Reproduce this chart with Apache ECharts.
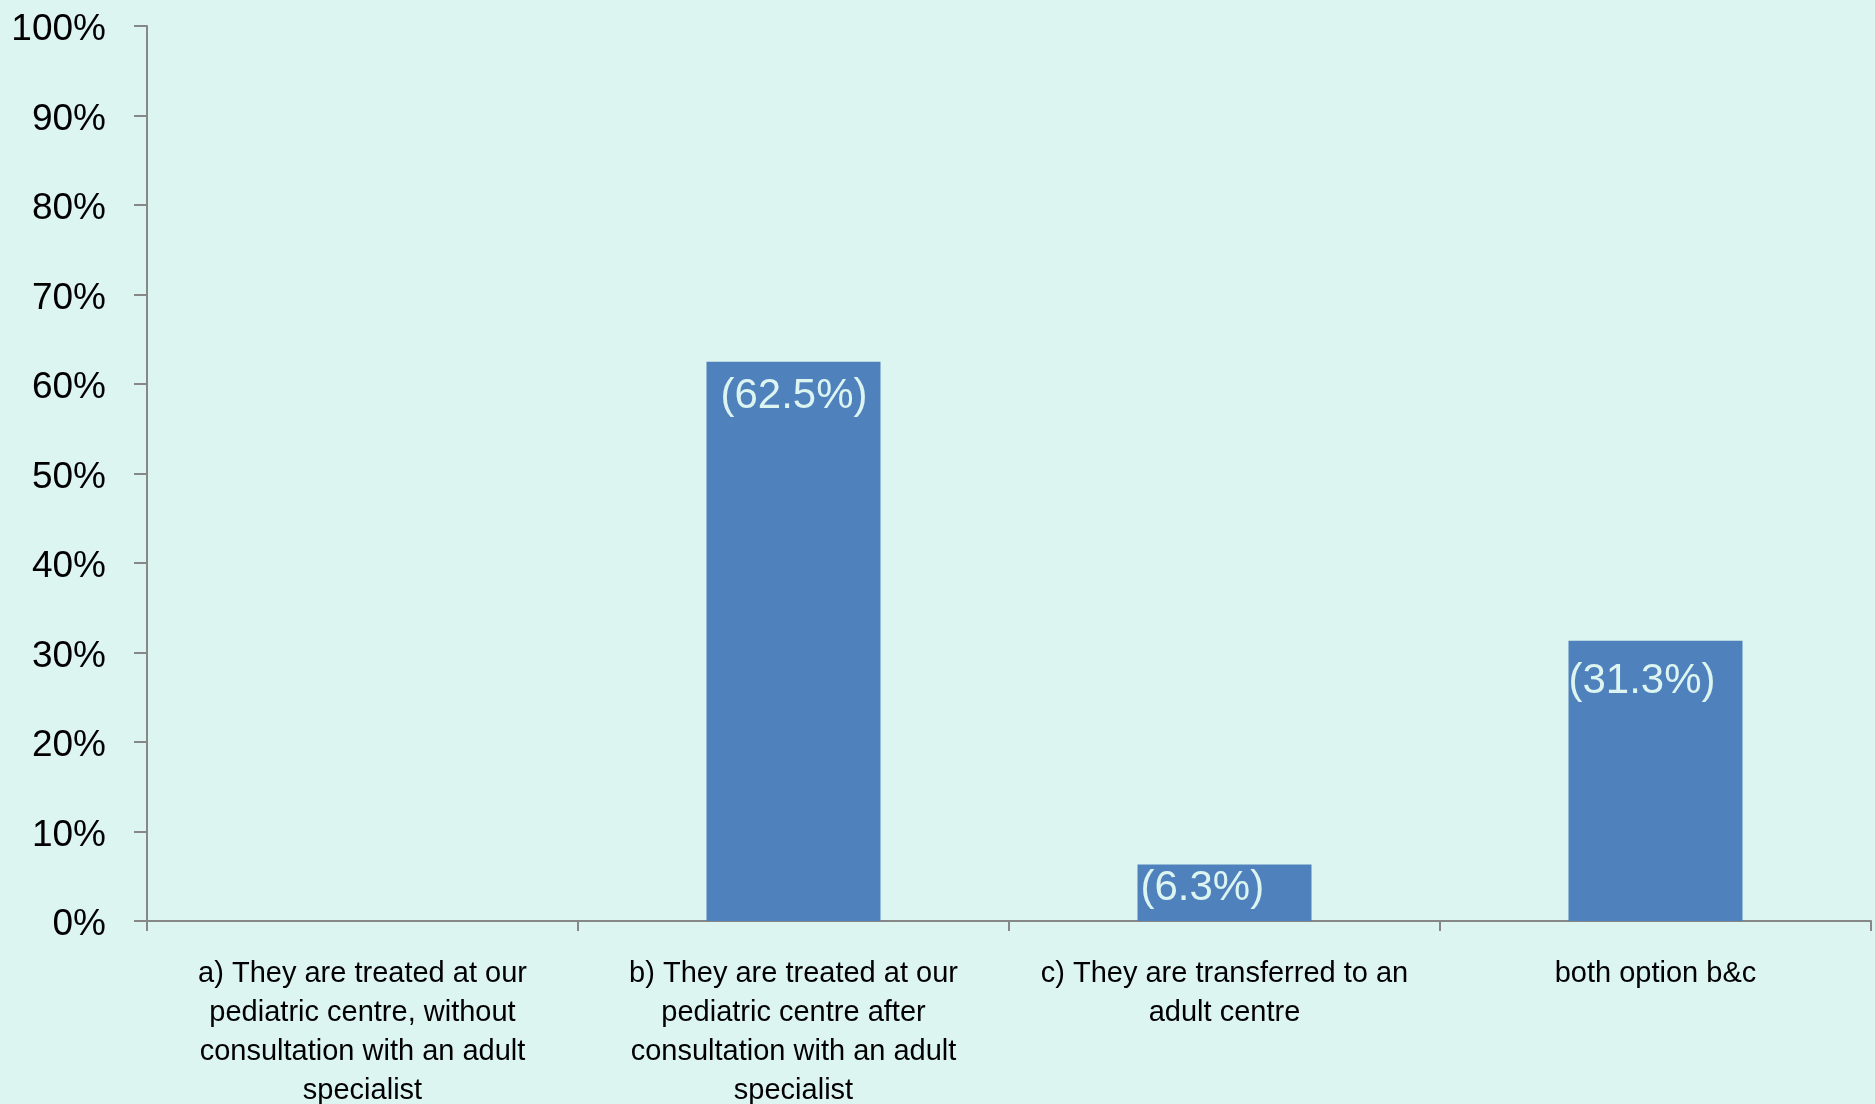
<!DOCTYPE html>
<html>
<head>
<meta charset="utf-8">
<script src="https://cdn.jsdelivr.net/npm/echarts@6/dist/echarts.min.js"></script>
<style>
  html, body { margin: 0; padding: 0; background: #DDF5F1; }
  #chart { width: 1875px; height: 1104px; }
</style>
</head>
<body>
<div id="chart"></div>
<script>
// Survey answers (category labels, wrapped as printed)
const categories = [
  'a) They are treated at our\npediatric centre, without\nconsultation with an adult\nspecialist',
  'b) They are treated at our\npediatric centre after\nconsultation with an adult\nspecialist',
  'c) They are transferred to an\nadult centre',
  'both option b&c'
];
// Share of respondents, percent
const shares = [0, 62.5, 6.3, 31.3];
// Y-axis range and step, percent
const yMin = 0;
const yMax = 100;
const yStep = 10;

// Where each value label sits inside its bar: [x, y] from the bar's top-left corner
const labelSpots = [[0, 0], [14, 35], [3, 24], [0, 41]];

const chart = echarts.init(document.getElementById('chart'));
const axisGray = '#878787';

chart.setOption({
  backgroundColor: '#DDF5F1',
  animation: false,
  grid: {
    left: 147, right: 4, top: 26, bottom: 183,
    containLabel: false,
    outerBoundsMode: 'none'
  },
  xAxis: {
    type: 'category',
    data: categories,
    axisLine: { lineStyle: { color: axisGray, width: 2 } },
    axisTick: { show: true, length: 10, lineStyle: { color: axisGray, width: 2 } },
    axisLabel: {
      interval: 0,
      margin: 33,
      color: '#000',
      fontFamily: 'Liberation Sans',
      fontSize: 29,
      lineHeight: 39,
      align: 'center'
    }
  },
  yAxis: {
    type: 'value',
    min: yMin,
    max: yMax,
    interval: yStep,
    splitLine: { show: false },
    axisLine: { show: true, lineStyle: { color: axisGray, width: 2 } },
    axisTick: { show: true, length: 13, lineStyle: { color: axisGray, width: 2 } },
    axisLabel: {
      formatter: '{value}%',
      margin: 41,
      verticalAlign: 'top',
      padding: [-18, 0, 0, 0],
      color: '#000',
      fontFamily: 'Liberation Sans',
      fontSize: 37,
      lineHeight: 44
    }
  },
  series: [{
    type: 'bar',
    barWidth: 174,
    itemStyle: { color: '#4F81BD' },
    data: shares.map((v, i) => ({
      value: v,
      label: {
        show: v > 0,
        position: labelSpots[i],
        align: 'left',
        verticalAlign: 'middle',
        formatter: '({c}%)',
        color: '#DDF5F1',
        fontFamily: 'Liberation Sans',
        fontSize: 42
      }
    }))
  }]
});
</script>
</body>
</html>
